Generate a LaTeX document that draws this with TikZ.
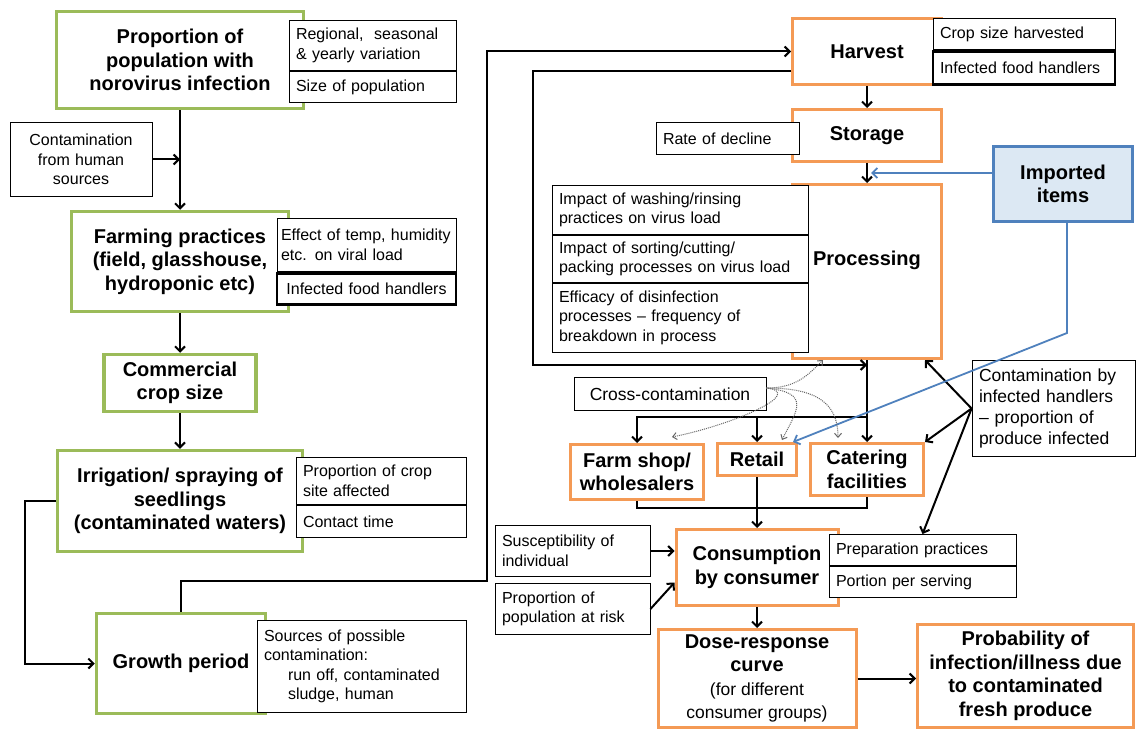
\documentclass[tikz,border=0pt]{standalone}
\usepackage{fontspec}
\setmainfont{Liberation Sans}
\usepackage{xcolor}
\usepackage{tikz}
\usetikzlibrary{positioning, arrows.meta}

\definecolor{boxgreen}{HTML}{9BBB59}
\definecolor{boxorange}{HTML}{F49A55}
\definecolor{boxblue}{HTML}{4F81BD}
\definecolor{fillblue}{HTML}{DCE8F3}

\newcommand{\titlesize}{\bfseries\fontsize{20}{23.5}\selectfont}
\newcommand{\notesize}{\fontsize{16}{19.5}\selectfont\hyphenpenalty=10000\relax}
\newcommand{\bignotesize}{\fontsize{17.5}{21}\selectfont\hyphenpenalty=10000\relax}
\newcommand{\plainpart}{\mdseries\fontsize{17.5}{20}\selectfont}

\begin{document}
\begin{tikzpicture}[
  x=1pt, y=-1pt,
  greenbox/.style = {
    rectangle, draw=boxgreen, fill=white, line width=3.5pt,
    align=center, inner sep=2pt, font=\titlesize},
  orangebox/.style = {
    rectangle, draw=boxorange, fill=white, line width=3pt,
    align=center, inner sep=2pt, font=\titlesize},
  importbox/.style = {
    rectangle, draw=boxblue, fill=fillblue, line width=3pt,
    align=center, inner sep=2pt, font=\titlesize},
  notebox/.style = {
    rectangle, draw=black, fill=white, line width=0.9pt,
    align=left, inner xsep=7pt, inner ysep=2pt, font=\notesize},
  handlerbox/.style = {notebox, line width=2.6pt, align=center},
  link/.style     = {line width=2pt},
  arr/.style      = {link, -{Straight Barb[length=5pt,width=10pt]}},
  bluearr/.style  = {arr, line width=1.8pt, draw=boxblue},
  crossarr/.style = {-{Straight Barb[length=4pt,width=7pt]},
                     line width=1pt, draw=black!60, densely dotted}
]

\path[use as bounding box, fill=white] (0,0) rectangle (1138,733);

%── Farm-side chain ──────────────────────────────────────────────
\node[greenbox, minimum width=247pt, minimum height=97pt] (POP) at (180,60)
  {Proportion of\\population with\\norovirus infection};
\node[greenbox, minimum width=217pt, minimum height=100pt] (FARM) at (180,261.5)
  {Farming practices\\(field, glasshouse,\\hydroponic etc)};
\node[greenbox, minimum width=152pt, minimum height=57pt] (CROP) at (180,383)
  {Commercial\\crop size};
\node[greenbox, minimum width=245pt, minimum height=101pt] (IRR) at (180,501)
  {Irrigation/ spraying of\\seedlings\\(contaminated waters)};
\node[greenbox, minimum width=169pt, minimum height=100pt] (GROW) at (181,663.5)
  {Growth period};

%── Farm-side notes ──────────────────────────────────────────────
\node[notebox, text width=153pt, minimum height=50pt] (REGVAR) at (372.5,45.5)
  {Regional,\ \ seasonal\\\& yearly variation};
\node[notebox, text width=153pt, minimum height=31pt, below=0pt of REGVAR] (POPSIZE)
  {Size of population};
\node[notebox, align=center, text width=128pt, minimum height=74pt] (HUMSRC) at (81,159.5)
  {Contamination\\from human\\sources};
\node[notebox, inner xsep=4pt, text width=171pt, minimum height=53pt] (TEMPFX) at (366.5,245)
  {Effect of temp, humidity\\etc. on viral load};
\node[handlerbox, text width=165pt, minimum height=31pt, below=0pt of TEMPFX] (HAND1)
  {Infected food handlers};
\node[notebox, text width=156pt, minimum height=47pt] (SITE) at (381,481)
  {Proportion of crop\\site affected};
\node[notebox, text width=156pt, minimum height=32pt, below=0pt of SITE] (CONTACT)
  {Contact time};
\node[notebox, text width=195pt, minimum height=92pt] (SOURCES) at (361.5,666.5)
  {Sources of possible\\contamination:\\\hspace*{24pt}run off, contaminated\\\hspace*{24pt}sludge, human};

%── Supply-side chain ────────────────────────────────────────────
\node[orangebox, minimum width=149pt, minimum height=66pt] (HARV) at (867,51.5) {Harvest};
\node[orangebox, minimum width=149pt, minimum height=52pt] (STOR) at (867,135.5) {Storage};
\node[orangebox, minimum width=149pt, minimum height=174pt] (PROC) at (867,271.5)
  {\raisebox{27pt}{Processing}};
\node[importbox, minimum width=139pt, minimum height=75pt] (IMP) at (1063,184)
  {Imported\\items};
\node[orangebox, minimum width=133pt, minimum height=55pt] (SHOP) at (637,472)
  {Farm shop/\\wholesalers};
\node[orangebox, minimum width=79pt, minimum height=32pt] (RET) at (757,459.5) {Retail};
\node[orangebox, minimum width=113pt, minimum height=52pt] (CAT) at (867,469.5)
  {Catering\\facilities};
\node[orangebox, minimum width=162pt, minimum height=76pt] (CONS) at (757,567.5)
  {Consumption\\by consumer};
\node[orangebox, minimum width=198pt, minimum height=98pt] (DOSE) at (757,678.5)
  {Dose-response\\curve\\{\plainpart (for different}\\{\plainpart consumer groups)}};
\node[orangebox, minimum width=216pt, minimum height=103pt] (PROB) at (1025.5,676)
  {Probability of\\infection/illness due\\to contaminated\\fresh produce};

%── Supply-side notes ────────────────────────────────────────────
\node[notebox, text width=168pt, minimum height=31pt] (CROPH) at (1024,34)
  {Crop size harvested};
\node[handlerbox, align=left, text width=168pt, minimum height=33pt, below=0pt of CROPH] (HAND2)
  {Infected food handlers};
\node[notebox, text width=129pt, minimum height=32pt] (DECL) at (727.5,138.5)
  {Rate of decline};
\node[notebox, text width=242pt, minimum height=49pt] (WASH) at (680,210)
  {Impact of washing/rinsing\\practices on virus load};
\node[notebox, text width=242pt, minimum height=47pt, below=0pt of WASH] (SORT)
  {Impact of sorting/cutting/\\packing processes on virus load};
\node[notebox, text width=242pt, minimum height=69pt, below=0pt of SORT] (DISINF)
  {Efficacy of disinfection\\processes -- frequency of\\breakdown in process};
\node[notebox, font=\bignotesize, align=center, text width=178pt, minimum height=33pt] (CROSS) at (670,394)
  {Cross-contamination};
\node[notebox, font=\bignotesize, text width=149pt, minimum height=96pt] (HCON) at (1053.5,408.5)
  {Contamination by\\infected handlers\\-- proportion of\\produce infected};
\node[notebox, text width=141pt, minimum height=51pt] (SUSC) at (572.5,551)
  {Susceptibility of\\individual};
\node[notebox, text width=141pt, minimum height=51pt] (RISK) at (572.5,609)
  {Proportion of\\population at risk};
\node[notebox, text width=173pt, minimum height=31pt] (PREP) at (922.5,550)
  {Preparation practices};
\node[notebox, text width=173pt, minimum height=31pt, below=0pt of PREP] (PORT)
  {Portion per serving};

%── Farm-side connectors ─────────────────────────────────────────
\draw[arr] (POP) -- (FARM);
\draw[arr] (HUMSRC.east) -- (HUMSRC.east -| POP.south);
\draw[arr] (FARM) -- (CROP);
\draw[arr] (CROP) -- (IRR);
\draw[arr] (IRR.west) -- ++(-31,0) |- (GROW.west);
\coordinate (loopR) at (487,581);
\draw[arr] (GROW.north) |- (loopR) |- (HARV.west);

%── Supply-side connectors ───────────────────────────────────────
\draw[arr] (HARV) -- (STOR);
\draw[arr] (STOR) -- (PROC);
\coordinate (trunkin) at (867,365);
\draw[arr] ([yshift=15pt]HARV.south west) -- ++(-258,0) |- (trunkin);
\coordinate (impin) at (871,173);
\draw[bluearr] ([yshift=11pt]IMP.west) -- (impin);
\draw[arr] (PROC) -- (CAT);
\coordinate (split) at (867,417);
\draw[arr] (split) -| (SHOP.north);
\draw[arr] (split -| RET.north) -- (RET.north);
\coordinate (merge) at (757,508);
\draw[link] (SHOP.south) |- (merge) -| (CAT.south);
\draw[arr] (RET) -- (CONS);
\draw[arr] (SUSC.east) -- (SUSC.east -| CONS.west);
\draw[arr] (RISK.east) -- ([yshift=-15pt]CONS.west);
\draw[arr] (CONS) -- (DOSE);
\draw[arr] (DOSE.east) -- (DOSE.east -| PROB.west);

%── Handler contamination and imports ────────────────────────────
\draw[arr] (HCON.west) -- ([xshift=-18pt]PROC.south east);
\draw[arr] (HCON.west) -- (CAT.north east);
\draw[arr] (HCON.west) -- (PREP.north);
\draw[bluearr] ([xshift=4pt]IMP.south) -- ++(0,110) -- ([xshift=-5pt]RET.north east);

%── Cross-contamination ──────────────────────────────────────────
\draw[crossarr] ([yshift=6pt]CROSS.east) .. controls +(30,0) and +(-15,15) .. ([xshift=32pt]PROC.south west);
\draw[crossarr] ([yshift=6pt]CROSS.east) .. controls +(40,5) and +(60,-12) .. ([xshift=35pt,yshift=6pt]SHOP.north);
\draw[crossarr] ([yshift=6pt]CROSS.east) .. controls +(45,5) and +(15,-30) .. ([xshift=25pt,yshift=2pt]RET.north);
\draw[crossarr] ([yshift=6pt]CROSS.east) .. controls +(50,0) and +(0,-35) .. ([xshift=-29pt,yshift=4pt]CAT.north);

\end{tikzpicture}
\end{document}
